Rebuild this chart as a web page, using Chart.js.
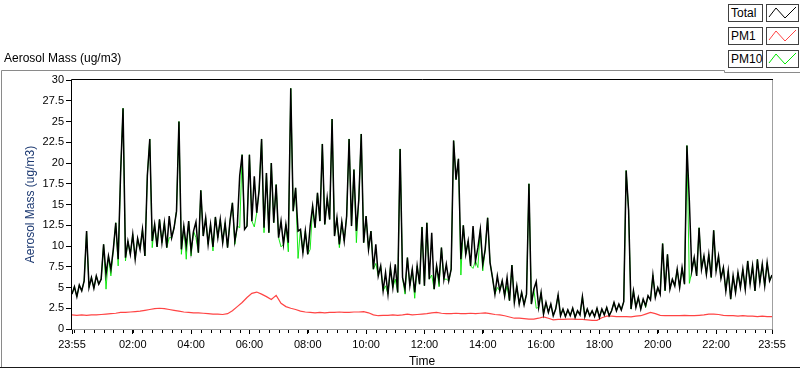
<!DOCTYPE html>
<html>
<head>
<meta charset="utf-8">
<script src="https://cdn.jsdelivr.net/npm/chart.js@4.4.1/dist/chart.umd.min.js"></script>
<style>
  body { margin: 0; background: #fff; }
  #wrap { position: relative; width: 800px; height: 369px; overflow: hidden; font-family: "Liberation Sans", Arial, sans-serif; }
  #chart { position: absolute; left: 0; top: 0; }
  #title { position: absolute; left: 4px; top: 51px; font-size: 12px; line-height: 14px; color: #000; }
  .lg { position: absolute; left: 728px; width: 35px; height: 18px; border: 1px solid #404040; box-sizing: border-box; font-size: 12px; line-height: 16px; padding-left: 2px; background: #fff; color: #000; }
  .sw { position: absolute; left: 766px; width: 33px; height: 18px; border: 1px solid #404040; box-sizing: border-box; background: #fff; }
  .sw svg { position: absolute; left: 0; top: 0; }
</style>
</head>
<body>
<div id="wrap">
  <canvas id="chart" width="800" height="369"></canvas>
  <div id="title">Aerosol Mass (ug/m3)</div>
  <div id="legend"></div>
</div>
<script>
// minutes after 23:55 between samples
const TOTAL_STEP = 5;
const PM1_STEP = 10;

const seriesNames = ['Total', 'PM1', 'PM10'];
const seriesColors = ['#000000', '#ff4444', '#00e600'];

// values (ug/m3), one every 5 minutes from 23:55
const total = [
  4.2, 5.1, 3.9, 5.3, 4.6, 5.8, 11.8, 5.0, 6.2, 4.9, 6.4, 5.4,
  6.0, 10.2, 6.6, 8.8, 7.2, 9.6, 12.8, 8.4, 18.8, 26.6, 8.6, 10.6,
  9.0, 11.4, 8.4, 10.9, 9.6, 12.0, 8.8, 18.5, 22.9, 10.6, 12.6, 9.9,
  13.2, 10.4, 12.8, 9.8, 13.6, 11.0, 12.2, 14.2, 25.0, 9.6, 12.4, 10.0,
  13.0, 9.4, 11.8, 12.9, 9.2, 16.7, 11.2, 13.4, 10.2, 12.6, 9.9, 13.5,
  11.0, 13.2, 10.4, 12.8, 9.8, 13.0, 15.2, 10.6, 12.4, 18.5, 21.0, 12.0,
  12.4, 21.0, 13.0, 18.4, 14.0, 16.8, 22.9, 12.2, 18.8, 11.6, 20.0, 12.8,
  17.4, 11.0, 13.0, 10.2, 12.6, 10.4, 29.0, 14.2, 17.0, 11.8, 12.0, 9.2,
  11.8, 9.0, 12.4, 14.8, 12.2, 16.4, 13.0, 22.3, 12.6, 15.8, 13.2, 25.3,
  11.2, 13.4, 10.2, 12.9, 10.6, 13.6, 22.9, 12.4, 19.2, 11.8, 15.6, 23.5,
  10.4, 13.6, 9.6, 11.8, 7.2, 10.2, 6.4, 7.6, 4.6, 6.8, 4.2, 7.4,
  5.0, 7.8, 4.4, 21.7, 6.2, 4.8, 8.6, 5.2, 7.2, 4.4, 7.6, 5.4,
  12.3, 5.2, 12.8, 6.0, 11.6, 4.8, 7.6, 5.8, 9.8, 6.0, 7.8, 5.8,
  7.2, 22.7, 18.0, 20.5, 8.4, 12.5, 9.0, 10.6, 7.6, 12.4, 8.2, 9.8,
  12.0, 7.8, 9.6, 13.4, 8.0, 6.2, 4.2, 6.4, 4.6, 5.8, 4.0, 6.2,
  3.4, 7.7, 3.2, 5.2, 3.0, 4.4, 2.9, 4.2, 17.5, 3.0, 4.8, 5.7,
  2.6, 4.4, 1.8, 3.2, 2.0, 3.0, 1.6, 2.4, 4.1, 1.6, 2.4, 1.5,
  2.3, 1.6, 2.5, 1.4, 2.2, 1.7, 3.9, 1.5, 2.4, 1.6, 2.2, 1.5,
  2.5, 1.4, 2.4, 1.7, 2.6, 1.6, 2.2, 3.2, 2.2, 3.0, 2.3, 3.3,
  19.1, 14.3, 2.4, 4.6, 2.6, 3.8, 2.4, 3.6, 2.8, 4.0, 3.5, 6.5,
  3.8, 5.0, 4.2, 10.3, 4.6, 9.0, 4.8, 6.0, 5.2, 7.2, 5.0, 7.4,
  5.4, 22.1, 15.4, 7.0, 8.6, 6.4, 12.2, 7.2, 8.8, 6.6, 9.0, 6.2,
  11.9, 7.0, 8.8, 6.1, 7.4, 4.6, 7.0, 3.6, 6.4, 4.4, 6.8, 5.0,
  7.2, 4.8, 8.2, 5.4, 7.6, 4.6, 8.4, 5.6, 7.8, 5.2, 8.0, 5.8, 6.5
];

// PM10 mostly hides under Total, shows where it dips below
const pm10 = [
  4.2, 5.1, 3.9, 5.3, 4.6, 5.8, 11.8, 5.0, 6.2, 4.9, 6.4, 5.4,
  6.0, 10.2, 4.8, 8.8, 6.4, 9.6, 12.8, 7.6, 18.8, 26.6, 8.2, 10.6,
  9.0, 11.4, 8.4, 10.9, 9.6, 12.0, 8.8, 18.5, 22.9, 9.8, 12.6, 9.9,
  13.2, 10.4, 12.8, 9.8, 11.0, 11.0, 12.2, 14.2, 25.0, 9.0, 12.4, 8.4,
  13.0, 8.8, 11.8, 11.0, 9.2, 16.7, 11.2, 13.4, 10.2, 12.6, 9.4, 13.5,
  11.0, 13.2, 10.4, 12.8, 9.8, 13.0, 15.2, 10.2, 12.4, 12.2, 21.0, 12.0,
  12.4, 21.0, 13.0, 12.3, 14.0, 16.8, 22.9, 11.6, 18.8, 11.6, 20.0, 12.8,
  17.4, 11.0, 9.9, 10.2, 12.6, 9.3, 29.0, 14.2, 17.0, 8.5, 12.0, 9.2,
  11.8, 9.0, 9.6, 14.8, 12.2, 16.4, 13.0, 22.3, 12.6, 15.8, 13.2, 25.3,
  11.2, 13.4, 9.8, 12.9, 10.6, 13.6, 22.9, 12.4, 19.2, 10.4, 15.6, 23.5,
  10.4, 13.6, 9.6, 11.8, 7.2, 7.9, 6.4, 7.6, 4.6, 5.2, 4.2, 7.4,
  5.0, 6.0, 4.4, 21.7, 6.2, 4.2, 8.6, 5.2, 7.2, 3.7, 7.6, 5.4,
  12.3, 5.2, 12.8, 6.0, 6.5, 4.8, 7.6, 5.1, 9.8, 6.0, 6.0, 5.8,
  7.2, 22.7, 18.0, 20.5, 6.5, 12.5, 9.0, 10.6, 7.6, 7.3, 8.2, 7.4,
  12.0, 7.0, 9.6, 13.4, 8.0, 6.2, 4.2, 5.0, 4.6, 5.8, 4.0, 5.2,
  3.4, 7.7, 3.2, 5.2, 3.0, 4.4, 2.9, 4.2, 17.5, 3.0, 4.8, 2.5,
  2.6, 4.4, 1.8, 3.2, 2.0, 3.0, 1.6, 2.4, 4.1, 1.6, 2.4, 1.5,
  2.3, 1.6, 2.5, 1.4, 2.2, 1.7, 3.9, 1.5, 2.4, 1.6, 2.2, 1.5,
  2.5, 1.4, 2.4, 1.7, 2.6, 1.6, 2.2, 3.2, 2.2, 3.0, 2.3, 3.3,
  19.1, 14.3, 2.4, 4.6, 2.6, 3.8, 2.4, 3.6, 2.6, 4.0, 3.5, 6.5,
  3.8, 5.0, 4.2, 10.3, 4.6, 9.0, 4.8, 6.0, 5.2, 7.2, 5.0, 7.4,
  5.4, 22.1, 5.5, 7.0, 8.6, 6.4, 12.2, 7.2, 8.8, 6.6, 9.0, 6.2,
  11.9, 7.0, 8.8, 6.1, 7.4, 4.6, 7.0, 3.6, 6.4, 4.4, 6.8, 5.0,
  7.2, 4.8, 8.2, 5.4, 7.6, 4.6, 8.4, 5.6, 7.8, 5.2, 8.0, 5.8, 6.5
];

// PM1, one every 10 minutes from 23:55
const pm1 = [
  1.70, 1.65, 1.70, 1.65, 1.70, 1.70, 1.75, 1.80, 1.85, 1.90, 2.00, 2.00,
  2.05, 2.10, 2.15, 2.25, 2.35, 2.45, 2.50, 2.45, 2.35, 2.25, 2.15, 2.05,
  2.00, 1.95, 1.95, 1.90, 1.85, 1.80, 1.80, 1.75, 1.85, 2.20, 2.70, 3.20,
  3.80, 4.30, 4.45, 4.20, 3.90, 3.55, 4.05, 3.10, 2.70, 2.50, 2.35, 2.15,
  2.05, 2.00, 1.95, 2.00, 1.95, 2.00, 2.00, 2.05, 2.00, 2.00, 2.05, 2.05,
  2.10, 1.95, 1.70, 1.60, 1.65, 1.65, 1.70, 1.65, 1.70, 1.80, 1.70, 1.75,
  1.80, 1.85, 1.95, 2.00, 1.90, 1.85, 1.85, 1.90, 1.85, 1.85, 1.90, 1.85,
  1.90, 1.95, 1.85, 1.75, 1.70, 1.60, 1.45, 1.30, 1.30, 1.25, 1.20, 1.20,
  1.30, 1.45, 1.30, 1.10, 1.15, 1.15, 1.20, 1.20, 1.15, 1.15, 1.10, 1.05,
  1.05, 1.35, 1.55, 1.55, 1.50, 1.50, 1.50, 1.45, 1.55, 1.60, 1.80, 2.00,
  1.85, 1.65, 1.60, 1.60, 1.60, 1.60, 1.65, 1.60, 1.60, 1.65, 1.70, 1.80,
  1.80, 1.75, 1.65, 1.60, 1.60, 1.55, 1.60, 1.55, 1.55, 1.50, 1.55, 1.50, 1.50
];

// axis ticks
const yTickValues = [0, 2.5, 5, 7.5, 10, 12.5, 15, 17.5, 20, 22.5, 25, 27.5, 30];
const xTickMinutes = [0, 125, 245, 365, 485, 605, 725, 845, 965, 1085, 1205, 1325, 1440];
const xTickLabels = ['23:55', '02:00', '04:00', '06:00', '08:00', '10:00', '12:00',
                     '14:00', '16:00', '18:00', '20:00', '22:00', '23:55'];

const pts = (arr, step) => arr.map((v, i) => ({ x: i * step, y: v }));

// legend boxes on the top right
(function () {
  const lg = document.getElementById('legend');
  const tops = [4, 27, 50];
  seriesNames.forEach((name, i) => {
    const box = document.createElement('div');
    box.className = 'lg';
    box.style.top = tops[i] + 'px';
    box.textContent = name;
    lg.appendChild(box);
    const sw = document.createElement('div');
    sw.className = 'sw';
    sw.style.top = tops[i] + 'px';
    sw.innerHTML = '<svg width="31" height="16"><polyline points="2,12 9,3 18,13 29,2" fill="none" stroke="' +
      seriesColors[i] + '" stroke-width="1"/></svg>';
    lg.appendChild(sw);
  });
})();

const frame = {
  id: 'frame',
  afterDraw(chart) {
    const ctx = chart.ctx;
    const a = chart.chartArea;
    const xs = chart.scales.x;
    ctx.save();
    ctx.lineWidth = 1;
    // outer panel
    ctx.strokeStyle = '#8a8a8a';
    ctx.beginPath();
    ctx.moveTo(1.5, 368); ctx.lineTo(1.5, 70.5); ctx.lineTo(724.5, 70.5);
    ctx.lineTo(724.5, 72.5); ctx.lineTo(800, 72.5);
    ctx.stroke();
    ctx.strokeStyle = '#1a1a1a';
    ctx.beginPath(); ctx.moveTo(0, 367.5); ctx.lineTo(800, 367.5); ctx.stroke();
    // plot border: dark top/left, light bottom/right
    ctx.strokeStyle = '#a0a0a0';
    ctx.beginPath();
    ctx.moveTo(a.left, a.bottom + 0.5); ctx.lineTo(a.right + 0.5, a.bottom + 0.5);
    ctx.lineTo(a.right + 0.5, a.top);
    ctx.stroke();
    ctx.strokeStyle = '#000';
    ctx.beginPath();
    ctx.moveTo(a.left - 0.5, a.bottom + 1); ctx.lineTo(a.left - 0.5, a.top - 0.5);
    ctx.lineTo(a.right + 1, a.top - 0.5);
    ctx.stroke();
    // minor time ticks every 20 minutes
    ctx.beginPath();
    for (let m = 5; m < 1440; m += 20) {
      const px = Math.round(xs.getPixelForValue(m)) + 0.5;
      ctx.moveTo(px, a.bottom + 1); ctx.lineTo(px, a.bottom + 4);
    }
    ctx.stroke();
    ctx.restore();
  }
};

new Chart(document.getElementById('chart'), {
  type: 'line',
  data: {
    datasets: [
      { label: 'Total', data: pts(total, TOTAL_STEP), borderColor: seriesColors[0], borderWidth: 1.5, order: 0 },
      { label: 'PM1', data: pts(pm1, PM1_STEP), borderColor: seriesColors[1], borderWidth: 1.2, order: 2 },
      { label: 'PM10', data: pts(pm10, TOTAL_STEP), borderColor: seriesColors[2], borderWidth: 0.9, order: 1 }
    ]
  },
  options: {
    responsive: false,
    animation: false,
    events: [],
    layout: { padding: { top: 80, right: 28, bottom: 0, left: 0 } },
    elements: {
      line: { borderWidth: 1, tension: 0 },
      point: { radius: 0 }
    },
    plugins: {
      legend: { display: false },
      tooltip: { enabled: false }
    },
    scales: {
      x: {
        type: 'linear',
        min: 0,
        max: 1440,
        afterFit(scale) { scale.height = 40; },
        afterBuildTicks(scale) { scale.ticks = xTickMinutes.map(v => ({ value: v })); },
        border: { display: false },
        grid: { drawOnChartArea: false, tickLength: 5, color: '#000' },
        ticks: {
          autoSkip: false, maxRotation: 0, minRotation: 0, padding: 4, color: '#000',
          font: { family: '"Liberation Sans", Arial, sans-serif', size: 11 },
          callback: (v) => xTickLabels[xTickMinutes.indexOf(v)]
        },
        title: {
          display: true, text: 'Time', color: '#000', padding: 0,
          font: { family: '"Liberation Sans", Arial, sans-serif', size: 12 }
        }
      },
      y: {
        min: 0,
        max: 30,
        afterFit(scale) { scale.width = 72; },
        afterBuildTicks(scale) { scale.ticks = yTickValues.map(v => ({ value: v })); },
        border: { display: false },
        grid: { drawOnChartArea: false, tickLength: 6, color: '#000' },
        ticks: {
          padding: 2, color: '#000',
          font: { family: '"Liberation Sans", Arial, sans-serif', size: 11 }
        },
        title: {
          display: true, text: 'Aerosol Mass (ug/m3)', color: '#1d3a72',
          padding: { top: 23, bottom: 0 },
          font: { family: '"Liberation Sans", Arial, sans-serif', size: 12 }
        }
      }
    }
  },
  plugins: [frame]
});
</script>
</body>
</html>
